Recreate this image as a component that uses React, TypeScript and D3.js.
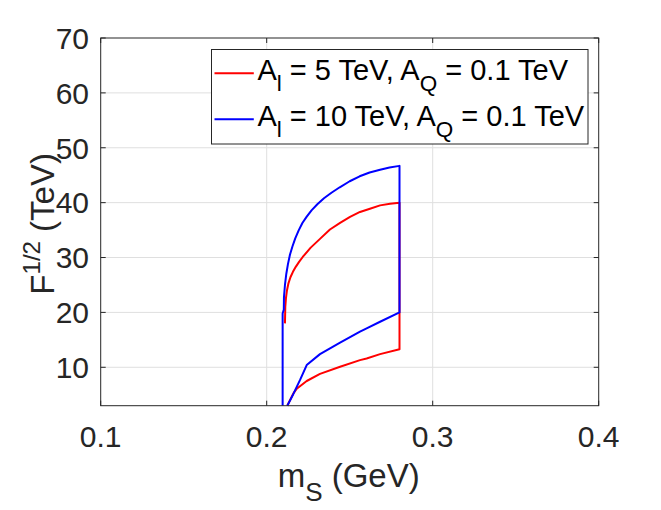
import React from 'react';
import * as d3 from 'd3';

// axis ticks
const xTicks = [0.1, 0.2, 0.3, 0.4];
const yTicks = [10, 20, 30, 40, 50, 60, 70];

// A_l = 5 TeV (red) : upper branch, right edge, lower branch
const redMs = [0.2110, 0.2112, 0.2116, 0.2122, 0.2131, 0.2143, 0.2158, 0.2175, 0.2195, 0.2217, 0.2265, 0.2321, 0.2381, 0.2442, 0.2502, 0.2562, 0.2622, 0.2683, 0.2743, 0.2800,
    0.2800, 0.2683, 0.2602, 0.2562, 0.2442, 0.2321, 0.2241, 0.2181, 0.2160, 0.2124];
const redF = [18.0, 21.0, 22.6, 24.0, 25.3, 26.4, 27.4, 28.3, 29.2, 30.1, 31.8, 33.4, 35.1, 36.3, 37.4, 38.3, 38.9, 39.5, 39.8, 40.0,
    13.3, 12.4, 11.6, 11.3, 10.1, 8.8, 7.5, 6.1, 5.2, 3.0];

// A_l = 10 TeV (blue)
const blueMs = [0.2096, 0.2096, 0.2103, 0.2104, 0.2110, 0.2118, 0.2128, 0.2140, 0.2155, 0.2172, 0.2192, 0.2215, 0.2240, 0.2270, 0.2305, 0.2345, 0.2390, 0.2440, 0.2500, 0.2560, 0.2620, 0.2683, 0.2740, 0.2800,
    0.2800, 0.2683, 0.2602, 0.2562, 0.2442, 0.2321, 0.2241, 0.2201, 0.2160, 0.2124];
const blueF = [3.0, 19.8, 20.5, 22.8, 25.0, 27.0, 28.8, 30.5, 32.0, 33.5, 34.9, 36.3, 37.4, 38.6, 39.7, 40.8, 41.8, 42.8, 43.9, 44.8, 45.5, 46.0, 46.4, 46.7,
    20.0, 18.3, 17.1, 16.5, 14.5, 12.4, 10.4, 7.7, 5.1, 3.0];

const legendLabels = [
    { main: 'A', sub: 'l', rest: ' = 5 TeV, A', sub2: 'Q', rest2: ' = 0.1 TeV', color: '#ff0000' },
    { main: 'A', sub: 'l', rest: ' = 10 TeV, A', sub2: 'Q', rest2: ' = 0.1 TeV', color: '#0000ff' },
];

const W = 661;
const H = 510;
const plot = { left: 100.7, right: 598.7, top: 38, bottom: 405.7 };
const font = '"Liberation Sans", Arial, Helvetica, sans-serif';
const ink = '#262626';

export default function App() {
    const x = d3.scaleLinear().domain([0.1, 0.4]).range([plot.left, plot.right]);
    const y = d3.scaleLinear().domain([3, 70]).range([plot.bottom, plot.top]);

    const line = d3.line<[number, number]>()
        .x(d => x(d[0]))
        .y(d => y(d[1]));

    const red = redMs.map((m, i) => [m, redF[i]] as [number, number]);
    const blue = blueMs.map((m, i) => [m, blueF[i]] as [number, number]);

    const tickLen = 5;

    return (
        <svg width={W} height={H} style={{ position: 'absolute', left: 0, top: 0, background: '#fff' }} fontFamily={font}>
            <rect x={0} y={0} width={W} height={H} fill="#fff" />
            {/* grid */}
            <g stroke="#dfdfdf" strokeWidth={1}>
                {xTicks.slice(1, -1).map(t => (
                    <line key={'gx' + t} x1={x(t)} x2={x(t)} y1={plot.top} y2={plot.bottom} />
                ))}
                {yTicks.slice(0, -1).map(t => (
                    <line key={'gy' + t} x1={plot.left} x2={plot.right} y1={y(t)} y2={y(t)} />
                ))}
            </g>
            {/* data */}
            <path d={line(red) || ''} fill="none" stroke="#ff0000" strokeWidth={2} strokeLinejoin="round" />
            <path d={line(blue) || ''} fill="none" stroke="#0000ff" strokeWidth={2} strokeLinejoin="round" />
            {/* box and ticks */}
            <g stroke={ink} strokeWidth={1}>
                <rect x={plot.left} y={plot.top} width={plot.right - plot.left} height={plot.bottom - plot.top} fill="none" />
                {xTicks.map(t => (
                    <g key={'tx' + t}>
                        <line x1={x(t)} x2={x(t)} y1={plot.bottom} y2={plot.bottom - tickLen} />
                        <line x1={x(t)} x2={x(t)} y1={plot.top} y2={plot.top + tickLen} />
                    </g>
                ))}
                {yTicks.map(t => (
                    <g key={'ty' + t}>
                        <line x1={plot.left} x2={plot.left + tickLen} y1={y(t)} y2={y(t)} />
                        <line x1={plot.right} x2={plot.right - tickLen} y1={y(t)} y2={y(t)} />
                    </g>
                ))}
            </g>
            {/* tick labels */}
            <g fill={ink} fontSize={30}>
                {xTicks.map(t => (
                    <text key={'lx' + t} x={x(t)} y={447} textAnchor="middle">{t.toFixed(1)}</text>
                ))}
                {yTicks.map(t => (
                    <text key={'ly' + t} x={89} y={y(t) + 10.8} textAnchor="end">{t}</text>
                ))}
            </g>
            {/* axis labels */}
            <text x={(plot.left + plot.right) / 2 - 1} y={486.5} textAnchor="middle" fill={ink} fontSize={33}>
                m<tspan fontSize={26} dy={14}>S</tspan><tspan dy={-14}> (GeV)</tspan>
            </text>
            <text transform={`translate(54, ${(plot.top + plot.bottom) / 2 + 2}) rotate(-90)`} textAnchor="middle" fill={ink} fontSize={33}>
                F<tspan fontSize={24} dy={-14}>1/2</tspan><tspan dy={14}> (TeV)</tspan>
            </text>
            {/* legend */}
            <g>
                <rect x={211.5} y={49.5} width={376.5} height={94.5} fill="#fff" stroke={ink} strokeWidth={1} />
                {legendLabels.map((l, i) => {
                    const cy = 73.3 + i * 46;
                    return (
                        <g key={'lg' + i}>
                            <line x1={214.5} x2={253.8} y1={cy} y2={cy} stroke={l.color} strokeWidth={2} />
                            <text x={257.4} y={cy + 6.5} fill="#000" fontSize={29}>
                                {l.main}<tspan fontSize={22.5} dy={11}>{l.sub}</tspan>
                                <tspan dy={-11}>{l.rest}</tspan>
                                <tspan fontSize={22.5} dy={11}>{l.sub2}</tspan>
                                <tspan dy={-11}>{l.rest2}</tspan>
                            </text>
                        </g>
                    );
                })}
            </g>
        </svg>
    );
}
